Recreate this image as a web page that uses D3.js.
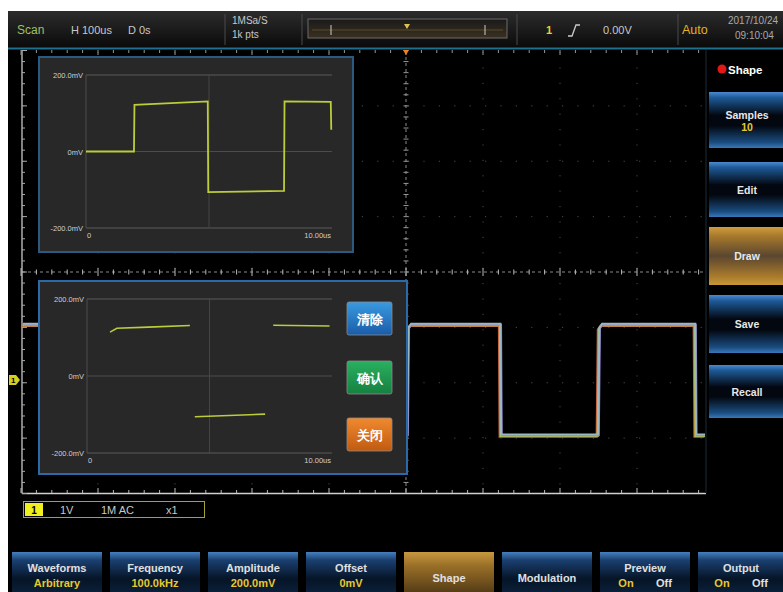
<!DOCTYPE html>
<html><head><meta charset="utf-8">
<script src="https://cdn.jsdelivr.net/npm/d3@7"></script>
<style>body{margin:0;background:#fff}svg{display:block}text{font-family:"Liberation Sans","DejaVu Sans",sans-serif}</style>
</head><body><svg id="c" width="783" height="592"></svg>
<script>
// ---------- data ----------
// main channel trace (time in us, volts relative to channel ground)
const mainT = [-498, -371, -370, -245, -244, -125, -124, 1.0, 2.5, 6, 122, 123, 249, 250.5, 254, 375, 376, 389];
const mainV = [1, 1, -1, -1, 1, 1, -1, -1, 0.93, 1, 1, -1, -1, 0.93, 1, 1, -1, -1];
const chOffset = -1.95;           // channel 1 offset (V)
// upper preview panel (us, mV)
const upperT = [0, 1.95, 1.97, 4.95, 4.97, 8.05, 8.07, 9.95, 9.97];
const upperV = [0, 0, 122, 131, -106, -103, 131, 130, 57];
// lower draw panel segments (us, mV)
const seg1T = [0.94, 1.22, 2.5, 4.2], seg1V = [114, 124, 127, 131];
const seg2T = [7.6, 9.9], seg2V = [132, 130];
const seg3T = [4.4, 7.27], seg3V = [-106, -99];
// tick labels
const panelYLabels = ["200.0mV", "0mV", "-200.0mV"];
const panelYVals = [200, 0, -200];
const panelXLabels = ["0", "10.00us"];
// menus
const sideItems = ["Samples", "Edit", "Draw", "Save", "Recall"];
const sideValues = ["10", "", "", "", ""];
const bottomTitles = ["Waveforms", "Frequency", "Amplitude", "Offset", "Shape", "Modulation", "Preview", "Output"];
const bottomValues = ["Arbitrary", "100.0kHz", "200.0mV", "0mV", "", "", "On|Off", "On|Off"];
const drawButtons = ["清除", "确认", "关闭"];
const chInfo = ["1V", "1M AC", "x1"];

// ---------- drawing ----------
const svg = d3.select("#c");
const defs = svg.append("defs");
function grad(id, stops) {
  const g = defs.append("linearGradient").attr("id", id).attr("x1", 0).attr("y1", 0).attr("x2", 0).attr("y2", 1);
  stops.forEach(s => g.append("stop").attr("offset", s[0]).attr("stop-color", s[1]));
}
grad("topbar", [[0, "#2c2c2c"], [1, "#0a0a0a"]]);
grad("blueBtn", [[0, "#4a8ad0"], [0.1, "#1e5a98"], [0.42, "#03070f"], [0.6, "#03070f"], [0.9, "#1a4c80"], [1, "#3a78b8"]]);
grad("goldBtn", [[0, "#d09c40"], [0.15, "#a87a2c"], [0.5, "#5a4630"], [0.85, "#a87a2c"], [1, "#c8963a"]]);
grad("botBtn", [[0, "#4580c0"], [0.18, "#1a4070"], [0.6, "#061426"], [1, "#0c2440"]]);
grad("botGold", [[0, "#c89840"], [0.3, "#9a7028"], [1, "#4a3414"]]);
grad("scroll", [[0, "#1a1a1a"], [1, "#3a3020"]]);
grad("bBlue", [[0, "#3a9ae0"], [1, "#1a5ca8"]]);
grad("bGreen", [[0, "#2ab060"], [1, "#168040"]]);
grad("bOrange", [[0, "#f08a30"], [1, "#c05a10"]]);

// screen background
svg.append("rect").attr("x", 8).attr("y", 11).attr("width", 775).attr("height", 581).attr("fill", "#000");
// top bar
svg.append("rect").attr("x", 8).attr("y", 11).attr("width", 775).attr("height", 37).attr("fill", "url(#topbar)");
svg.append("line").attr("x1", 8).attr("x2", 783).attr("y1", 48.5).attr("y2", 48.5).attr("stroke", "#1f6f8f").attr("stroke-width", 2);
[225, 302, 517, 678].forEach(x => svg.append("line").attr("x1", x).attr("x2", x).attr("y1", 14).attr("y2", 45).attr("stroke", "#4a4a4a"));
const tb = svg.append("g").attr("font-size", 11);
tb.append("text").attr("x", 17).attr("y", 34).attr("fill", "#9cc060").attr("font-size", 12).text("Scan");
tb.append("text").attr("x", 71).attr("y", 34).attr("fill", "#c8c8c8").text("H 100us");
tb.append("text").attr("x", 128).attr("y", 34).attr("fill", "#c8c8c8").text("D 0s");
tb.append("text").attr("x", 232).attr("y", 24).attr("fill", "#c8c8c8").attr("font-size", 10).text("1MSa/S");
tb.append("text").attr("x", 232).attr("y", 38).attr("fill", "#c8c8c8").attr("font-size", 10).text("1k pts");
svg.append("rect").attr("x", 308).attr("y", 19).attr("width", 199).attr("height", 19).attr("fill", "url(#scroll)").attr("stroke", "#6a6a6a");
svg.append("line").attr("x1", 312).attr("x2", 503).attr("y1", 30).attr("y2", 30).attr("stroke", "#5a4a2a");
[331, 485].forEach(x => svg.append("line").attr("x1", x).attr("x2", x).attr("y1", 25).attr("y2", 35).attr("stroke", "#ccc"));
svg.append("path").attr("d", "M404,24 L410,24 L407,29 Z").attr("fill", "#e0c050");
tb.append("text").attr("x", 546).attr("y", 34).attr("fill", "#e8d030").attr("font-weight", "bold").text("1");
svg.append("path").attr("d", "M568,36 L572,36 L576,25 L580,25").attr("fill", "none").attr("stroke", "#cccccc").attr("stroke-width", 1.3);
tb.append("text").attr("x", 603).attr("y", 34).attr("fill", "#c8c8c8").text("0.00V");
tb.append("text").attr("x", 682).attr("y", 34).attr("fill", "#e8b020").attr("font-size", 12.5).text("Auto");
tb.append("text").attr("x", 728).attr("y", 24).attr("fill", "#aaa").attr("font-size", 10).text("2017/10/24");
tb.append("text").attr("x", 735).attr("y", 39).attr("fill", "#aaa").attr("font-size", 10).text("09:10:04");

// ---------- main graticule ----------
const xM = d3.scaleLinear().domain([-500, 500]).range([21, 791]);
const yM = d3.scaleLinear().domain([-4, 4]).range([493.5, 50.5]);
const gGrid = svg.append("g");
const divX = d3.range(-500, 501, 100), divY = d3.range(-4, 5, 1);
gGrid.selectAll(".vd").data(divX.filter(d => d !== 0 && d > -500)).join("line")
  .attr("x1", d => xM(d)).attr("x2", d => xM(d)).attr("y1", 52).attr("y2", 492)
  .attr("stroke", "#4a4a4a").attr("stroke-dasharray", "1.2,14.2");
gGrid.selectAll(".hd").data(divY.filter(d => d !== 0 && Math.abs(d) < 4)).join("line")
  .attr("x1", 23).attr("x2", 705).attr("y1", d => yM(d)).attr("y2", d => yM(d))
  .attr("stroke", "#4a4a4a").attr("stroke-dasharray", "1.2,14.2");
// center lines
gGrid.append("line").attr("x1", xM(0)).attr("x2", xM(0)).attr("y1", 51).attr("y2", 493)
  .attr("stroke", "#8a8a8a").attr("stroke-dasharray", "3,3");
gGrid.append("line").attr("x1", 22).attr("x2", 705).attr("y1", yM(0)).attr("y2", yM(0))
  .attr("stroke", "#8a8a8a").attr("stroke-dasharray", "3,3");
const minorX = d3.range(-500, 501, 20).filter(d => xM(d) < 705), minorY = d3.range(-4, 4.01, 0.2);
gGrid.selectAll(".mtx").data(minorX).join("line")
  .attr("x1", d => xM(d)).attr("x2", d => xM(d))
  .attr("y1", d => yM(0) - (d % 100 === 0 ? 4 : 2.5)).attr("y2", d => yM(0) + (d % 100 === 0 ? 4 : 2.5))
  .attr("stroke", "#bbb");
gGrid.selectAll(".mty").data(minorY).join("line")
  .attr("y1", d => yM(d)).attr("y2", d => yM(d)).attr("x1", xM(0) - 2.5).attr("x2", xM(0) + 2.5).attr("stroke", "#999");
// borders and their ticks
gGrid.append("line").attr("x1", 22).attr("x2", 22).attr("y1", 50).attr("y2", 493.5).attr("stroke", "#c8c8c8").attr("stroke-width", 1.3);
gGrid.append("line").attr("x1", 22).attr("x2", 706).attr("y1", 493.5).attr("y2", 493.5).attr("stroke", "#d0d0d0").attr("stroke-width", 1.5);
gGrid.selectAll(".btx").data(minorX).join("line")
  .attr("x1", d => xM(d)).attr("x2", d => xM(d)).attr("y1", 493).attr("y2", d => 493 - (d % 100 === 0 ? 5 : 3)).attr("stroke", "#bbb");
gGrid.selectAll(".ttx").data(minorX).join("line")
  .attr("x1", d => xM(d)).attr("x2", d => xM(d)).attr("y1", 50).attr("y2", d => 50 + (d % 100 === 0 ? 5 : 3)).attr("stroke", "#999");
gGrid.selectAll(".ltx").data(minorY).join("line")
  .attr("y1", d => yM(d)).attr("y2", d => yM(d)).attr("x1", 22).attr("x2", d => 22 + (Math.abs(d - Math.round(d)) < 1e-6 ? 5 : 3)).attr("stroke", "#aaa");

// ---------- main trace ----------
const mainPts = mainT.map((t, i) => [t, mainV[i]]);
const mLine = d3.line().x(d => xM(d[0])).y(d => yM(d[1] + chOffset));
const traceStyles = [
  { c: "#c86a40", dx: -1, dy: 1.2, w: 2.2 },
  { c: "#b0c840", dx: 0, dy: 0.6, w: 2 },
  { c: "#8a74c0", dx: 1.2, dy: 0, w: 1.8 },
  { c: "#9ab8c4", dx: 0.5, dy: -0.8, w: 2 }
];
traceStyles.forEach(s => svg.append("path").attr("d", mLine(mainPts)).attr("fill", "none")
  .attr("stroke", s.c).attr("stroke-width", s.w).attr("transform", `translate(${s.dx},${s.dy})`));
// channel ground marker & trigger marker
svg.append("path").attr("d", `M9,${yM(chOffset) - 5} L16,${yM(chOffset) - 5} L20,${yM(chOffset)} L16,${yM(chOffset) + 5} L9,${yM(chOffset) + 5} Z`).attr("fill", "#d8d020");
svg.append("text").attr("x", 11).attr("y", yM(chOffset) + 3).attr("font-size", 8).attr("font-weight", "bold").attr("fill", "#000").text("1");
svg.append("path").attr("d", `M${xM(0) - 3},50 L${xM(0) + 3},50 L${xM(0)},55 Z`).attr("fill", "#f08020");

// ---------- panels ----------
function panel(x, y, w, h, border) {
  svg.append("rect").attr("x", x).attr("y", y).attr("width", w).attr("height", h)
    .attr("fill", "#282828").attr("stroke", border).attr("stroke-width", 2);
}
function panelAxes(xs, ys) {
  const g = svg.append("g");
  const [x0, x1] = xs.range(), [y0, y1] = ys.range();
  g.append("line").attr("x1", x0).attr("x2", x1).attr("y1", y1).attr("y2", y1).attr("stroke", "#5a5a5a");
  g.append("line").attr("x1", x0).attr("x2", x1).attr("y1", y0).attr("y2", y0).attr("stroke", "#5a5a5a");
  g.append("line").attr("x1", x0).attr("x2", x1).attr("y1", ys(0)).attr("y2", ys(0)).attr("stroke", "#4c4c4c");
  g.append("line").attr("x1", x0).attr("x2", x0).attr("y1", y1).attr("y2", y0).attr("stroke", "#4c4c4c");
  g.append("line").attr("x1", xs(5)).attr("x2", xs(5)).attr("y1", y1).attr("y2", y0).attr("stroke", "#444");
  g.selectAll(".yl").data(panelYVals).join("text").attr("x", x0 - 3).attr("y", d => ys(d) + 3)
    .attr("text-anchor", "end").attr("font-size", 7.5).attr("fill", "#cfcfcf").text((d, i) => panelYLabels[i]);
  g.append("text").attr("x", x0 + 1).attr("y", y0 + 10).attr("font-size", 7.5).attr("fill", "#cfcfcf").text(panelXLabels[0]);
  g.append("text").attr("x", x1 - 1).attr("y", y0 + 10).attr("text-anchor", "end").attr("font-size", 7.5).attr("fill", "#cfcfcf").text(panelXLabels[1]);
}
// upper preview
panel(39, 57, 314, 195, "#2a5a80");
const xU = d3.scaleLinear().domain([0, 10]).range([86, 332]);
const yU = d3.scaleLinear().domain([-200, 200]).range([228, 75]);
panelAxes(xU, yU);
const uLine = d3.line().x(d => xU(d[0])).y(d => yU(d[1]));
svg.append("path").attr("d", uLine(upperT.map((t, i) => [t, upperV[i]]))).attr("fill", "none")
  .attr("stroke", "#bccc3a").attr("stroke-width", 1.8);

// lower draw panel
panel(39, 281, 368, 193, "#2a6aa8");
const xL = d3.scaleLinear().domain([0, 10]).range([87, 332]);
const yL = d3.scaleLinear().domain([-200, 200]).range([453, 299]);
panelAxes(xL, yL);
const lLine = d3.line().x(d => xL(d[0])).y(d => yL(d[1]));
[[seg1T, seg1V], [seg2T, seg2V], [seg3T, seg3V]].forEach(([T, V]) =>
  svg.append("path").attr("d", lLine(T.map((t, i) => [t, V[i]]))).attr("fill", "none")
    .attr("stroke", "#bccc3a").attr("stroke-width", 1.6));
const btnFills = ["url(#bBlue)", "url(#bGreen)", "url(#bOrange)"];
const btnY = [302, 361, 418];
drawButtons.forEach((b, i) => {
  svg.append("rect").attr("x", 347).attr("y", btnY[i]).attr("width", 45).attr("height", 33).attr("rx", 2)
    .attr("fill", btnFills[i]).attr("stroke", "#8a8a8a").attr("stroke-width", 0.8);
  svg.append("text").attr("x", 369.5).attr("y", btnY[i] + 21.5).attr("text-anchor", "middle")
    .attr("font-family", "Noto Sans CJK SC").attr("font-size", 13).attr("font-weight", "bold").attr("fill", "#fff").text(b);
});

// ---------- right side menu ----------
svg.append("rect").attr("x", 705).attr("y", 50).attr("width", 78).attr("height", 443).attr("fill", "#000");
svg.append("line").attr("x1", 706).attr("x2", 706).attr("y1", 50).attr("y2", 493).attr("stroke", "#1a2a3a");
svg.append("circle").attr("cx", 722).attr("cy", 69).attr("r", 4.5).attr("fill", "#e01818");
svg.append("text").attr("x", 728).attr("y", 73.5).attr("font-size", 11.5).attr("font-weight", "bold").attr("fill", "#fff").text("Shape");
const sideY = [92, 162, 227, 295, 365], sideH = [56, 55, 58, 58, 53];
sideItems.forEach((s, i) => {
  svg.append("rect").attr("x", 709).attr("y", sideY[i]).attr("width", 76).attr("height", sideH[i])
    .attr("fill", s === "Draw" ? "url(#goldBtn)" : "url(#blueBtn)");
  const cy = sideY[i] + sideH[i] / 2;
  svg.append("text").attr("x", 747).attr("y", sideValues[i] ? cy - 1 : cy + 4).attr("text-anchor", "middle")
    .attr("font-size", 10.5).attr("font-weight", "bold").attr("fill", "#e8e8e8").text(s);
  if (sideValues[i]) svg.append("text").attr("x", 747).attr("y", cy + 11).attr("text-anchor", "middle")
    .attr("font-size", 10.5).attr("font-weight", "bold").attr("fill", "#e8c830").text(sideValues[i]);
});

// ---------- channel info ----------
svg.append("rect").attr("x", 23.5).attr("y", 501.5).attr("width", 181).attr("height", 16).attr("fill", "#000").attr("stroke", "#a8a030");
svg.append("rect").attr("x", 25).attr("y", 503).attr("width", 18).attr("height", 13).attr("fill", "#f0f020");
svg.append("text").attr("x", 34).attr("y", 513.5).attr("text-anchor", "middle").attr("font-size", 10).attr("font-weight", "bold").attr("fill", "#000").text("1");
[60, 101, 166].forEach((x, i) => svg.append("text").attr("x", x).attr("y", 514).attr("font-size", 11).attr("fill", "#c8c8c8").text(chInfo[i]));

// ---------- bottom menu ----------
const bw = 90, bStep = 98, bx0 = 12;
bottomTitles.forEach((t, i) => {
  const x = bx0 + i * bStep;
  const w = i === 7 ? 86 : bw;
  svg.append("rect").attr("x", x).attr("y", 552).attr("width", w).attr("height", 45)
    .attr("fill", t === "Shape" ? "url(#botGold)" : "url(#botBtn)");
  const cx = x + w / 2;
  const v = bottomValues[i];
  svg.append("text").attr("x", cx).attr("y", v ? 572 : 582).attr("text-anchor", "middle")
    .attr("font-size", 11).attr("font-weight", "bold").attr("fill", "#e0e0e0").text(t);
  if (v.includes("|")) {
    const [a, b] = v.split("|");
    svg.append("text").attr("x", cx - 19).attr("y", 587).attr("text-anchor", "middle").attr("font-size", 11).attr("font-weight", "bold").attr("fill", "#e8c830").text(a);
    svg.append("text").attr("x", cx + 19).attr("y", 587).attr("text-anchor", "middle").attr("font-size", 11).attr("font-weight", "bold").attr("fill", "#e0e0e0").text(b);
  } else if (v) {
    svg.append("text").attr("x", cx).attr("y", 587).attr("text-anchor", "middle").attr("font-size", 11).attr("font-weight", "bold").attr("fill", "#e8c830").text(v);
  }
});
</script></body></html>
